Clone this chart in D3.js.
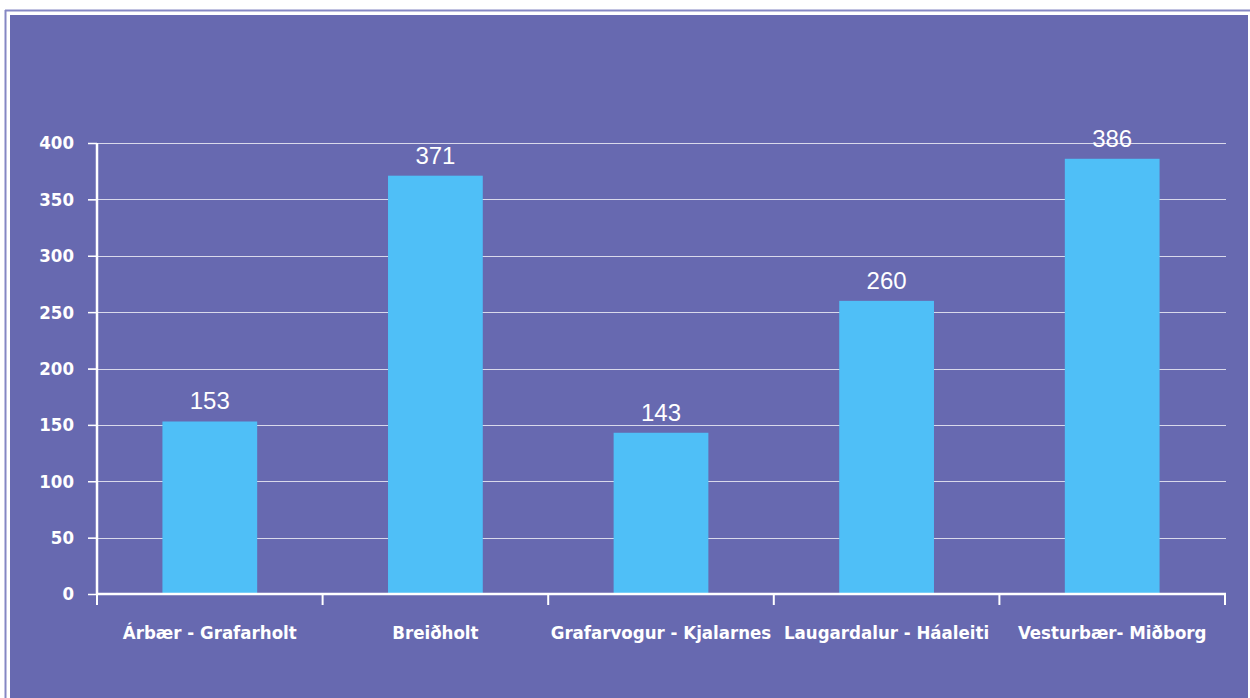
<!DOCTYPE html>
<html>
<head>
<meta charset="utf-8">
<script src="https://cdn.jsdelivr.net/npm/d3@7"></script>
<style>
  body { margin: 0; background: #fff; }
  svg { display: block; }
</style>
</head>
<body>
<div id="chart"></div>
<script>
const districts = ['Árbær - Grafarholt', 'Breiðholt', 'Grafarvogur - Kjalarnes', 'Laugardalur - Háaleiti', 'Vesturbær- Miðborg'];
const counts = [153, 371, 143, 260, 386];
const yTicks = [0, 50, 100, 150, 200, 250, 300, 350, 400];

const width = 1250;
const height = 698;
const margin = { top: 143, right: 25, bottom: 104, left: 97 };

const usableArea = {
  left: margin.left,
  right: width - margin.right,
  top: margin.top,
  bottom: height - margin.bottom,
};

const svg = d3.select('#chart')
  .append('svg')
  .attr('width', width)
  .attr('height', height);

// panel frame
svg.append('line')
  .attr('x1', 5).attr('x2', width)
  .attr('y1', 10.5).attr('y2', 10.5)
  .attr('stroke', '#8587c4').attr('stroke-width', 2);
svg.append('line')
  .attr('x1', 5.5).attr('x2', 5.5)
  .attr('y1', 10).attr('y2', height)
  .attr('stroke', '#8587c4').attr('stroke-width', 2);
svg.append('rect')
  .attr('x', 10).attr('y', 15)
  .attr('width', 1238).attr('height', height - 15)
  .attr('fill', '#6769b0');

const xScale = d3.scaleBand()
  .domain(districts)
  .range([usableArea.left, usableArea.right])
  .paddingInner(0.58)
  .paddingOuter(0.29);

const yScale = d3.scaleLinear()
  .domain([0, 400])
  .range([usableArea.bottom, usableArea.top]);

const g = svg.append('g');

// gridlines
g.append('g')
  .selectAll('line')
  .data(yTicks.filter(d => d > 0))
  .join('line')
  .attr('x1', usableArea.left - 9)
  .attr('x2', usableArea.right + 1)
  .attr('y1', d => Math.round(yScale(d)) + 0.5)
  .attr('y2', d => Math.round(yScale(d)) + 0.5)
  .attr('stroke', '#ffffff')
  .attr('stroke-opacity', 0.75)
  .attr('stroke-width', 1.2);

// bars
g.append('g')
  .selectAll('rect')
  .data(counts)
  .join('rect')
  .attr('x', (d, i) => xScale(districts[i]))
  .attr('y', d => yScale(d))
  .attr('width', xScale.bandwidth())
  .attr('height', d => yScale(0) - yScale(d))
  .attr('fill', '#4fbff7');

// value labels
g.append('g')
  .selectAll('text')
  .data(counts)
  .join('text')
  .attr('x', (d, i) => xScale(districts[i]) + xScale.bandwidth() / 2)
  .attr('y', d => yScale(d) - 12)
  .attr('text-anchor', 'middle')
  .attr('fill', '#ffffff')
  .style('font-family', '"Liberation Sans", Arial, sans-serif')
  .style('font-size', '24px')
  .text(d => d);

// y axis
const yAxis = g.append('g')
  .attr('transform', `translate(${usableArea.left}, 0)`)
  .call(d3.axisLeft(yScale).tickValues(yTicks).tickSize(9).tickPadding(14));
yAxis.select('.domain')
  .attr('stroke', '#ffffff').attr('stroke-width', 2.5)
  .attr('d', `M0,${usableArea.top}V${usableArea.bottom}`);
yAxis.selectAll('.tick line').attr('stroke', '#ffffff').attr('stroke-width', 1.5);
yAxis.selectAll('text')
  .attr('fill', '#ffffff')
  .style('font-family', '"DejaVu Sans Condensed", "DejaVu Sans", sans-serif')
  .style('font-weight', 'bold')
  .style('font-size', '18.5px');

// x axis with boundary ticks
const xAxis = g.append('g')
  .attr('transform', `translate(0, ${usableArea.bottom})`);
xAxis.append('line')
  .attr('x1', usableArea.left).attr('x2', usableArea.right + 1)
  .attr('y1', 0).attr('y2', 0)
  .attr('stroke', '#ffffff').attr('stroke-width', 2.5);
const edges = districts.map(d => xScale(d) - xScale.step() * xScale.paddingInner() / 2);
edges.push(usableArea.right);
edges[0] = usableArea.left;
xAxis.selectAll('.edge')
  .data(edges)
  .join('line')
  .attr('class', 'edge')
  .attr('x1', d => d).attr('x2', d => d)
  .attr('y1', 0).attr('y2', 11)
  .attr('stroke', '#ffffff').attr('stroke-width', 2);
xAxis.selectAll('text')
  .data(districts)
  .join('text')
  .attr('x', d => xScale(d) + xScale.bandwidth() / 2)
  .attr('y', 45)
  .attr('text-anchor', 'middle')
  .attr('fill', '#ffffff')
  .style('font-family', '"DejaVu Sans Condensed", "DejaVu Sans", sans-serif')
  .style('font-weight', 'bold')
  .style('font-size', '18.5px')
  .text(d => d);
</script>
</body>
</html>
